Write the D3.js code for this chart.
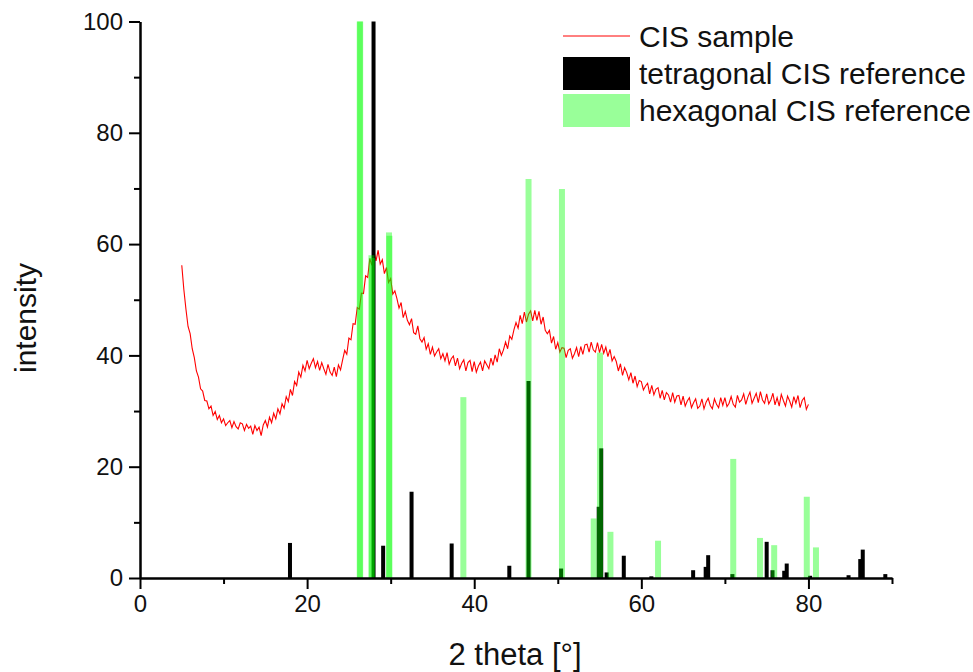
<!DOCTYPE html>
<html>
<head>
<meta charset="utf-8">
<script src="https://cdn.jsdelivr.net/npm/d3@7"></script>
<style>
  body { margin: 0; background: #fff; }
  text { font-family: "Liberation Sans", Arial, sans-serif; }
</style>
</head>
<body>
<div id="chart"></div>
<script>
var w = 973;
var h = 672;

// tetragonal CIS reference peaks (2 theta, intensity)
var tetraTheta = [17.95, 27.95, 29.1, 32.5, 37.3, 44.2, 46.5, 50.4, 54.9, 55.2, 55.85, 57.9, 61.2, 66.2, 67.7, 68.0, 70.9, 75.0, 75.7, 77.1, 77.4, 80.2, 84.8, 86.2, 86.5, 89.2];
var tetraInt   = [6.3, 100, 5.8, 15.5, 6.2, 2.2, 35.4, 1.7, 12.8, 23.3, 1.0, 4.0, 0.3, 1.4, 2.0, 4.1, 0.7, 6.5, 1.4, 1.3, 2.6, 0.4, 0.5, 3.4, 5.1, 0.7];

// hexagonal CIS reference peaks (close pairs overlap)
var hexaTheta = [26.3, 26.35, 27.7, 27.75, 29.8, 29.85, 38.7, 46.5, 50.5, 54.3, 55.05, 56.3, 62.0, 71.0, 74.2, 75.9, 79.8, 80.9];
var hexaInt   = [100, 100, 58, 57.5, 62.1, 61.5, 32.5, 71.7, 69.9, 10.7, 40.5, 8.3, 6.7, 21.4, 7.2, 5.9, 14.6, 5.5];

// CIS sample scan, 2 theta from 5 to 80 in 0.25 steps
var sampleStart = 5;
var sampleStep = 0.25;
var sampleInt = [
  56.2, 51.8, 48.3, 45.2, 43.9, 41.2, 39.6, 37.2, 36.1, 34.0, 33.6, 31.9, 31.8, 30.4, 30.9, 29.2, 29.9, 28.5, 29.2, 27.9,
  28.6, 27.4, 27.9, 28.3, 27.0, 28.1, 27.2, 26.8, 27.9, 27.7, 26.5, 27.6, 26.9, 27.3, 25.8, 27.4, 26.5, 27.1, 25.6, 27.5,
  28.3, 27.1, 28.9, 27.9, 29.6, 28.6, 30.4, 29.5, 31.3, 30.5, 32.6, 31.7, 33.9, 32.8, 35.3, 34.6, 37.0, 36.1, 38.2, 37.2,
  39.1, 37.6, 38.6, 39.4, 37.8, 38.9, 37.3, 38.7, 37.6, 36.6, 38.4, 37.0, 36.4, 37.9, 36.2, 38.3, 37.4, 39.2, 40.9, 40.2,
  43.1, 42.8, 45.7, 45.6, 48.6, 48.3, 51.2, 51.1, 54.3, 54.0, 57.4, 56.2, 58.7, 57.0, 58.9, 56.4, 57.2, 54.7, 55.8, 53.1,
  53.8, 51.0, 51.6, 50.2, 48.5, 49.5, 46.8, 47.9, 46.3, 45.5, 46.6, 44.1, 43.8, 45.3, 43.0, 42.4, 43.2, 41.1, 42.1, 40.2,
  41.5, 39.9, 40.6, 41.2, 39.4, 40.3, 39.0, 40.5, 38.4, 39.4, 39.9, 38.1, 39.5, 37.6, 38.6, 39.2, 37.2, 38.7, 39.1, 37.1,
  38.9, 37.0, 38.1, 38.8, 37.2, 39.0, 38.3, 37.6, 39.5, 38.2, 40.1, 38.8, 41.2, 40.0, 41.0, 42.4, 41.2, 43.5, 42.9, 44.6,
  45.9, 44.9, 47.2, 45.7, 47.8, 46.0, 47.4, 48.0, 46.2, 48.1, 46.3, 47.9, 45.6, 46.9, 44.5, 43.9, 44.5, 42.2, 43.4, 41.1,
  42.3, 40.6, 41.4, 41.3, 39.6, 40.9, 41.2, 39.5, 40.3, 41.4, 39.8, 41.6, 40.2, 41.9, 42.0, 40.6, 42.4, 41.0, 40.6, 42.3,
  40.5, 42.0, 40.4, 41.5, 39.8, 41.1, 39.0, 39.8, 38.9, 37.2, 38.5, 36.4, 37.8, 36.9, 35.6, 36.9, 35.0, 36.3, 34.4, 35.5,
  35.3, 33.8, 34.5, 35.0, 33.1, 34.6, 32.9, 33.9, 34.2, 32.3, 33.7, 32.0, 33.3, 32.9, 31.6, 33.3, 31.6, 32.7, 32.8, 31.1,
  32.7, 30.9, 31.8, 32.4, 30.6, 31.5, 32.2, 30.5, 30.9, 32.2, 30.4, 31.6, 32.3, 31.0, 30.4, 32.2, 31.2, 30.6, 32.4, 31.0,
  32.4, 30.8, 31.4, 32.6, 31.2, 30.7, 32.8, 31.6, 32.0, 33.1, 31.2, 32.5, 33.4, 31.4, 32.3, 33.2, 31.5, 33.5, 32.0, 31.4,
  33.1, 31.3, 32.0, 33.2, 31.1, 32.4, 30.9, 33.0, 31.9, 30.9, 32.7, 31.8, 30.7, 32.6, 31.4, 32.8, 30.6, 31.9, 32.4, 30.3,
  31.2
];

var xTicks = [0, 20, 40, 60, 80];
var xMinor = [10, 30, 50, 70, 90];
var yTicks = [0, 20, 40, 60, 80, 100];
var yMinor = [10, 30, 50, 70, 90];

var legendLabels = ["CIS sample", "tetragonal CIS reference", "hexagonal CIS reference"];

var svg = d3.select("#chart").append("svg")
        .attr("width", w)
        .attr("height", h)
        .style("background-color", "white");

var xScale = d3.scaleLinear().domain([0, 90]).range([140, 892]);
var yScale = d3.scaleLinear().domain([0, 100]).range([578, 21.5]);

var sample = sampleInt.map(function(v, i){
  return {t: sampleStart + i * sampleStep, v: v};
});

// sample curve
var line = d3.line()
        .x(function(d){ return xScale(d.t); })
        .y(function(d){ return yScale(d.v); });

svg.append("path")
  .datum(sample)
  .attr("d", line)
  .attr("fill", "none")
  .attr("stroke", "#ff0000")
  .attr("stroke-width", 1.1);

// tetragonal bars
var tetra = tetraTheta.map(function(t, i){ return {t: t, v: tetraInt[i]}; });
svg.append("g").selectAll("rect")
  .data(tetra)
  .join("rect")
  .attr("x", function(d){ return xScale(d.t) - 2; })
  .attr("y", function(d){ return yScale(d.v); })
  .attr("width", 4)
  .attr("height", function(d){ return yScale(0) - yScale(d.v); })
  .attr("fill", "black");

// hexagonal bars, translucent on top
var hexa = hexaTheta.map(function(t, i){ return {t: t, v: hexaInt[i]}; });
svg.append("g").selectAll("rect")
  .data(hexa)
  .join("rect")
  .attr("x", function(d){ return xScale(d.t) - 3; })
  .attr("y", function(d){ return yScale(d.v); })
  .attr("width", 6)
  .attr("height", function(d){ return yScale(0) - yScale(d.v); })
  .attr("fill", "#00ff00")
  .attr("fill-opacity", 0.4);

// axes
svg.append("g")
  .attr("transform", "translate(0," + yScale(0) + ")")
  .call(d3.axisBottom(xScale).tickValues(xTicks).tickSize(11).tickPadding(6).tickSizeOuter(0));
svg.append("g")
  .attr("transform", "translate(0," + yScale(0) + ")")
  .call(d3.axisBottom(xScale).tickValues(xMinor).tickSize(6).tickFormat("").tickSizeOuter(0));

svg.append("g")
  .attr("transform", "translate(" + xScale(0) + ",0)")
  .call(d3.axisLeft(yScale).tickValues(yTicks).tickSize(11).tickPadding(6).tickSizeOuter(0));
svg.append("g")
  .attr("transform", "translate(" + xScale(0) + ",0)")
  .call(d3.axisLeft(yScale).tickValues(yMinor).tickSize(6).tickFormat("").tickSizeOuter(0));

svg.selectAll(".domain").attr("stroke", "black").attr("stroke-width", 2);
svg.selectAll(".tick line").attr("stroke", "black").attr("stroke-width", 2);
svg.selectAll(".tick text")
  .style("font-family", '"Liberation Sans", Arial, sans-serif')
  .style("font-size", "24px")
  .attr("fill", "#111");

// axis titles
svg.append("text")
  .attr("x", 515)
  .attr("y", 665)
  .attr("text-anchor", "middle")
  .style("font-size", "31px")
  .attr("fill", "#111")
  .text("2 theta [°]");

svg.append("text")
  .attr("transform", "translate(36,318) rotate(-90)")
  .attr("text-anchor", "middle")
  .style("font-size", "30px")
  .attr("fill", "#111")
  .text("intensity");

// legend
var lg = svg.append("g");
lg.append("line")
  .attr("x1", 563).attr("x2", 630)
  .attr("y1", 36).attr("y2", 36)
  .attr("stroke", "#ff0000").attr("stroke-width", 1);
lg.append("rect")
  .attr("x", 563).attr("y", 57)
  .attr("width", 67).attr("height", 33)
  .attr("fill", "black");
lg.append("rect")
  .attr("x", 563).attr("y", 94)
  .attr("width", 67).attr("height", 33)
  .attr("fill", "#00ff00").attr("fill-opacity", 0.4);

lg.selectAll("text.lab")
  .data(legendLabels)
  .join("text")
  .attr("class", "lab")
  .attr("x", 639)
  .attr("y", function(d, i){ return 47 + i * 37; })
  .style("font-size", "30px")
  .attr("fill", "#111")
  .text(function(d){ return d; });
</script>
</body>
</html>
